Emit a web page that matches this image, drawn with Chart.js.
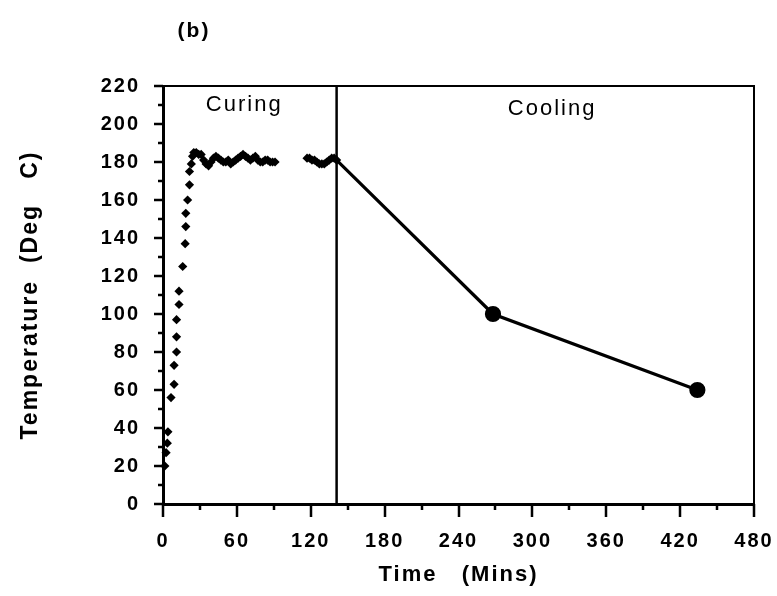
<!DOCTYPE html>
<html>
<head>
<meta charset="utf-8">
<title>Temperature profile (b)</title>
<script src="https://cdn.jsdelivr.net/npm/chart.js@4.4.0/dist/chart.umd.min.js"></script>
<style>
    html, body { margin: 0; padding: 0; background: #fff; }
    #wrap { position: relative; width: 777px; height: 596px; }
</style>
</head>
<body>
<div id="wrap"><canvas id="profileChart"></canvas></div>
<script>
// curing phase readings (minutes, deg C)
const curingTime = [1.5, 2.5, 3.5, 4, 6.5, 9, 9, 11, 11, 11, 13, 13, 16, 18, 18.5, 18.5, 20, 21.5, 21.5, 23,
    24, 25, 27, 29, 31, 33, 35, 37, 39, 41, 43, 45, 47, 49, 51, 53, 55, 57, 59, 61, 63, 65, 67, 69, 71, 73, 75, 77, 79, 81, 83, 85, 87, 89, 91,
    117, 119, 121, 123, 125, 127, 129, 131, 133, 135, 137, 139, 141];
const curingTemp = [20, 27, 32, 38, 56, 63, 73, 80, 88, 97, 105, 112, 125, 137, 146, 153, 160, 168, 175, 179,
    183, 185, 185, 184, 184, 181, 179, 178, 180, 182, 183, 182, 181, 180, 180, 181, 179, 180, 181, 182, 183, 184, 183, 182, 181, 182, 183, 181, 180, 180, 181, 181, 180, 180, 180,
    182, 182, 181, 181, 180, 179, 179, 179, 180, 181, 182, 182, 181];

// cooling phase readings
const coolingTime = [141, 268, 434];
const coolingTemp = [181, 100, 60];

// end of curing / start of cooling
const dividerTime = 141;

// axis ticks
const xMajor = [0, 60, 120, 180, 240, 300, 360, 420, 480];
const yMajor = [0, 20, 40, 60, 80, 100, 120, 140, 160, 180, 200, 220];

const toPoints = (xs, ys) => xs.map((v, i) => ({ x: v, y: ys[i] }));

const baseFont = '"Liberation Sans", Arial, Helvetica, sans-serif';

// frame, major/minor tick marks and phase labels
const frameAndTicks = {
    id: 'frameAndTicks',
    beforeDraw(chart) {
        const ctx = chart.ctx;
        ctx.save();
        ctx.fillStyle = '#fff';
        ctx.fillRect(0, 0, chart.width, chart.height);
        ctx.restore();
        ctx.letterSpacing = '2px';
    },
    afterDraw(chart) {
        const { ctx, chartArea: a, scales: { x, y } } = chart;
        ctx.save();
        ctx.strokeStyle = '#000';
        ctx.lineCap = 'butt';

        // top and right edges of the box
        ctx.lineWidth = 2;
        ctx.beginPath();
        ctx.moveTo(a.left, a.top);
        ctx.lineTo(a.right, a.top);
        ctx.lineTo(a.right, a.bottom);
        ctx.stroke();

        ctx.lineWidth = 2.5;
        ctx.beginPath();
        x.ticks.forEach(t => {
            const px = Math.round(x.getPixelForValue(t.value));
            const len = xMajor.includes(t.value) ? 13 : 6;
            ctx.moveTo(px, a.bottom);
            ctx.lineTo(px, a.bottom + len);
        });
        y.ticks.forEach(t => {
            const py = Math.round(y.getPixelForValue(t.value));
            const len = yMajor.includes(t.value) ? 9 : 5;
            ctx.moveTo(a.left, py);
            ctx.lineTo(a.left - len, py);
        });
        ctx.stroke();

        // phase labels
        ctx.fillStyle = '#000';
        ctx.textAlign = 'center';
        ctx.textBaseline = 'middle';
        ctx.letterSpacing = '2px';
        ctx.font = '22px ' + baseFont;
        ctx.fillText('Curing', x.getPixelForValue(66), y.getPixelForValue(210));
        ctx.fillText('Cooling', x.getPixelForValue(316), y.getPixelForValue(208));

        ctx.font = 'bold 21px ' + baseFont;
        ctx.fillText('(b)', 194, 31);
        ctx.restore();
    }
};

const ctx = document.getElementById('profileChart').getContext('2d');
const profileChart = new Chart(ctx, {
    type: 'scatter',
    data: {
        datasets: [{
            label: 'Curing',
            data: toPoints(curingTime, curingTemp),
            pointStyle: 'rectRot',
            pointRadius: 4.6,
            pointBackgroundColor: '#000',
            pointBorderColor: '#000',
            pointBorderWidth: 0,
            showLine: false,
            clip: false
        }, {
            label: 'Divider',
            data: [{ x: dividerTime, y: 0 }, { x: dividerTime, y: 220 }],
            showLine: true,
            borderColor: '#000',
            borderWidth: 2.5,
            pointRadius: 0
        }, {
            label: 'Cooling',
            data: toPoints(coolingTime, coolingTemp),
            showLine: true,
            borderColor: '#000',
            borderWidth: 3.2,
            pointRadius: [0, 6.5, 6.5],
            pointBackgroundColor: '#000',
            pointBorderColor: '#000',
            clip: false
        }]
    },
    options: {
        responsive: true,
        maintainAspectRatio: false,
        animation: false,
        events: [],
        layout: {
            padding: { top: 86, right: 23, left: 0, bottom: 0 }
        },
        plugins: {
            legend: { display: false },
            tooltip: { enabled: false }
        },
        scales: {
            x: {
                type: 'linear',
                min: 0,
                max: 480,
                afterFit: s => {
                    s.height = 92;
                    s.paddingLeft = 0;
                    s.paddingRight = 0;
                },
                grid: { display: false },
                border: { display: true, color: '#000', width: 3 },
                ticks: {
                    stepSize: 30,
                    autoSkip: false,
                    maxRotation: 0,
                    padding: 17,
                    color: '#000',
                    font: { size: 20, weight: 'bold', family: baseFont },
                    callback: v => xMajor.includes(v) ? v : ''
                },
                title: {
                    display: true,
                    text: 'Time   (Mins)',
                    color: '#000',
                    font: { size: 22, weight: 'bold', family: baseFont },
                    padding: { top: 0, bottom: 8 }
                }
            },
            y: {
                min: 0,
                max: 220,
                afterFit: s => {
                    s.width = 163;
                    s.paddingTop = 0;
                    s.paddingBottom = 0;
                },
                grid: { display: false },
                border: { display: true, color: '#000', width: 3 },
                ticks: {
                    stepSize: 10,
                    autoSkip: false,
                    padding: 15,
                    color: '#000',
                    font: { size: 20, weight: 'bold', family: baseFont },
                    callback: v => yMajor.includes(v) ? v : ''
                },
                title: {
                    display: true,
                    text: 'Temperature  (Deg   C)',
                    color: '#000',
                    font: { size: 23, weight: 'bold', family: baseFont },
                    padding: { top: 17, bottom: 0 }
                }
            }
        }
    },
    plugins: [frameAndTicks]
});
</script>
</body>
</html>
